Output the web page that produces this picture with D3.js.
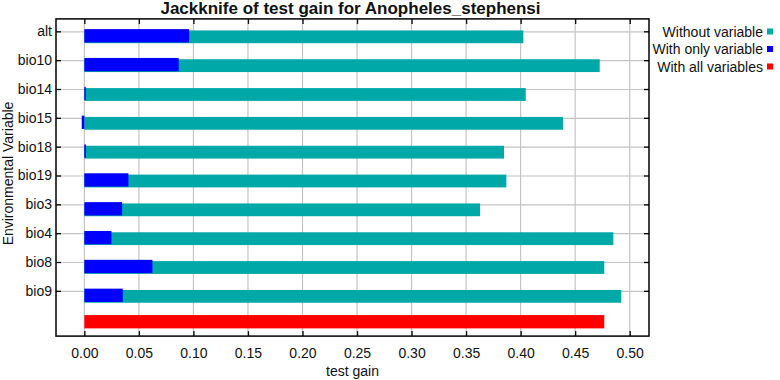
<!DOCTYPE html>
<html>
<head>
<meta charset="utf-8">
<script src="https://cdn.jsdelivr.net/npm/d3@7"></script>
<style>
  body { margin: 0; background: #fff; }
  text { font-family: "Liberation Sans", Arial, sans-serif; fill: #111; }
</style>
</head>
<body>
<script>
var width = 780;
var height = 380;
var margin = { top: 18.9, right: 131, bottom: 43.9, left: 56 };

// jackknife values
var variables = ["alt", "bio10", "bio14", "bio15", "bio18", "bio19", "bio3", "bio4", "bio8", "bio9"];
var withoutVariable = [0.4025, 0.4725, 0.4047, 0.4389, 0.3848, 0.3869, 0.3628, 0.4850, 0.4767, 0.4923];
var withOnlyVariable = [0.0960, 0.0865, 0.0013, -0.0024, 0.0015, 0.0404, 0.0346, 0.0248, 0.0624, 0.0352];
var withAllVariables = 0.4767;
var xTicks = [0, 0.05, 0.10, 0.15, 0.20, 0.25, 0.30, 0.35, 0.40, 0.45, 0.50];
var legendLabels = ["Without variable", "With only variable", "With all variables"];
var colors = ["#00a8a8", "#0000ff", "#ff0000"];

var svg = d3.select("body").append("svg")
    .attr("width", width)
    .attr("height", height);

var innerW = width - margin.left - margin.right;
var innerH = height - margin.top - margin.bottom;

var xScale = d3.scaleLinear()
    .domain([-0.026, 0.5177])
    .range([0, innerW]);

var rows = variables.concat(["__all"]);
var yScale = d3.scaleBand()
    .domain(rows)
    .range([0, innerH]);
var bw = yScale.bandwidth();
var yc = function(d) { return yScale(d) + bw / 2; };

var g = svg.append("g")
    .attr("transform", "translate(" + margin.left + "," + (margin.top) + ")");

// grid
g.selectAll(".vgrid")
    .data(xTicks)
    .enter()
    .append("line")
    .attr("x1", function(d) { return xScale(d); })
    .attr("x2", function(d) { return xScale(d); })
    .attr("y1", 0)
    .attr("y2", innerH)
    .attr("stroke", "#c4c4c4")
    .attr("stroke-width", 1.2);

g.selectAll(".hgrid")
    .data(variables)
    .enter()
    .append("line")
    .attr("x1", 0)
    .attr("x2", innerW)
    .attr("y1", function(d) { return yc(d) - 1.5; })
    .attr("y2", function(d) { return yc(d) - 1.5; })
    .attr("stroke", "#c4c4c4")
    .attr("stroke-width", 1.2);

// without variable (teal)
g.selectAll(".without")
    .data(variables)
    .enter()
    .append("rect")
    .attr("x", xScale(0))
    .attr("y", function(d) { return yc(d) - 2.9; })
    .attr("width", function(d, i) { return xScale(withoutVariable[i]) - xScale(0); })
    .attr("height", 12.8)
    .attr("fill", colors[0]);

// with only variable (blue)
g.selectAll(".only")
    .data(variables)
    .enter()
    .append("rect")
    .attr("x", function(d, i) { return xScale(Math.min(0, withOnlyVariable[i])); })
    .attr("y", function(d) { return yc(d) - 4.2; })
    .attr("width", function(d, i) { return Math.abs(xScale(withOnlyVariable[i]) - xScale(0)); })
    .attr("height", 13.3)
    .attr("fill", colors[1]);

// with all variables (red)
g.append("rect")
    .attr("x", xScale(0))
    .attr("y", yc("__all") - 6.6)
    .attr("width", xScale(withAllVariables) - xScale(0))
    .attr("height", 13.3)
    .attr("fill", colors[2]);

// axes, ticks pointing inward
var xAxis = d3.axisBottom(xScale)
    .tickValues(xTicks)
    .tickSizeInner(-5)
    .tickSizeOuter(0)
    .tickPadding(12)
    .tickFormat(d3.format(".2f"));

var xAxisTop = d3.axisTop(xScale)
    .tickValues(xTicks)
    .tickSizeInner(-5)
    .tickSizeOuter(0)
    .tickFormat("");

var yAxis = d3.axisLeft(yScale)
    .tickValues(variables)
    .tickSizeInner(-5)
    .tickSizeOuter(0)
    .tickPadding(4);

var yAxisRight = d3.axisRight(yScale)
    .tickValues(variables)
    .tickSizeInner(-5)
    .tickSizeOuter(0)
    .tickFormat("");

g.append("g")
    .attr("class", "xAxis")
    .attr("transform", "translate(0," + innerH + ")")
    .call(xAxis);

g.append("g")
    .attr("class", "xAxisTop")
    .call(xAxisTop);

g.append("g")
    .attr("class", "yAxis")
    .attr("transform", "translate(0,-1.5)")
    .call(yAxis);

g.append("g")
    .attr("class", "yAxisRight")
    .attr("transform", "translate(" + innerW + ",-1.5)")
    .call(yAxisRight);

g.selectAll(".tick line").attr("stroke", "#000").attr("stroke-width", 1.3);
g.selectAll(".tick text").attr("font-size", 14).attr("fill", "#111");

// frame
g.append("rect")
    .attr("x", 0)
    .attr("y", 0)
    .attr("width", innerW)
    .attr("height", innerH)
    .attr("fill", "none")
    .attr("stroke", "#000")
    .attr("stroke-width", 1.5);
g.selectAll(".domain").remove();

// title and axis labels
svg.append("text")
    .attr("x", margin.left + innerW / 2 - 2)
    .attr("y", 13.5)
    .attr("text-anchor", "middle")
    .attr("font-size", 17)
    .attr("font-weight", "bold")
    .text("Jackknife of test gain for Anopheles_stephensi");

svg.append("text")
    .attr("x", margin.left + innerW / 2)
    .attr("y", 376)
    .attr("text-anchor", "middle")
    .attr("font-size", 14)
    .text("test gain");

svg.append("text")
    .attr("transform", "translate(13," + (margin.top + innerH / 2 - 4) + ") rotate(-90)")
    .attr("text-anchor", "middle")
    .attr("font-size", 14)
    .text("Environmental Variable");

// legend
var legend = svg.selectAll(".legend")
    .data(legendLabels)
    .enter()
    .append("g")
    .attr("class", "legend")
    .attr("transform", function(d, i) { return "translate(763," + (31.5 + i * 17.5) + ")"; });

legend.append("text")
    .attr("x", 0)
    .attr("y", 5)
    .attr("text-anchor", "end")
    .attr("font-size", 14)
    .text(function(d) { return d; });

legend.append("rect")
    .attr("x", 4)
    .attr("y", -3)
    .attr("width", 6)
    .attr("height", 6)
    .attr("fill", function(d, i) { return colors[i]; });
</script>
</body>
</html>
